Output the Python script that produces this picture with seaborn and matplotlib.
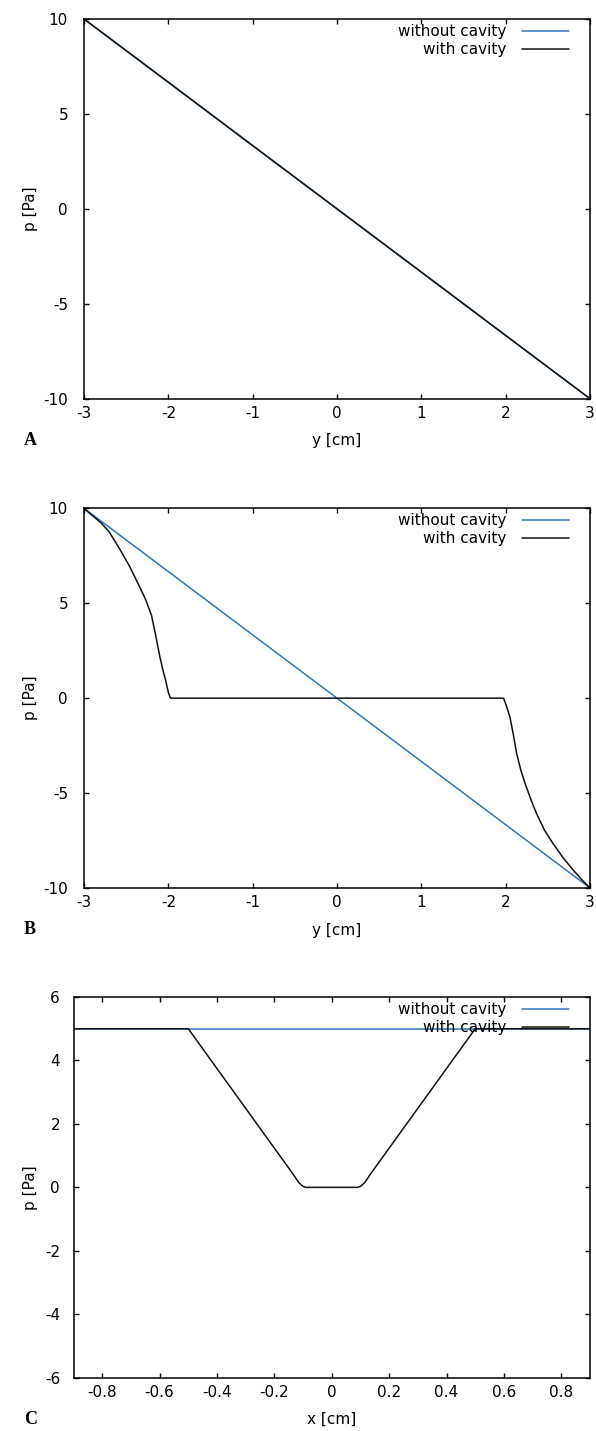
import matplotlib
matplotlib.use("Agg")
import matplotlib.pyplot as plt
import seaborn as sns
import pandas as pd

# ---- data -------------------------------------------------------------
# Panel A: pressure along y, both cases coincide
ya_without = [-3.0, 3.0]
pa_without = [10.0, -10.0]
ya_with = [-3.0, -2.0, -1.0, 0.0, 1.0, 2.0, 3.0]
pa_with = [10.0, 6.67, 3.33, 0.0, -3.33, -6.67, -10.0]

# Panel B: pressure along y through the cavity
yb_without = [-3.0, 3.0]
pb_without = [10.0, -10.0]
yb_with = [-3.0, -2.95, -2.89, -2.79, -2.70, -2.58, -2.46, -2.34, -2.27,
           -2.20, -2.15, -2.10, -2.06, -2.03, -2.00, -1.975,
           1.975, 2.00, 2.05, 2.09, 2.13, 2.18, 2.23, 2.30, 2.365, 2.46,
           2.56, 2.68, 2.80, 2.90, 3.0]
pb_with = [10.0, 9.8, 9.58, 9.2, 8.75, 7.88, 6.95, 5.86, 5.2,
           4.37, 3.3, 2.17, 1.4, 0.9, 0.3, 0.0,
           0.0, -0.3, -0.98, -1.9, -2.91, -3.8, -4.49, -5.35, -6.07, -6.95,
           -7.65, -8.4, -9.05, -9.55, -10.0]

# Panel C: pressure along x through the cavity
xc_without = [-0.9, 0.9]
pc_without = [5.0, 5.0]
xc_with = [-0.9, -0.5, -0.135, -0.115, -0.10, -0.09,
           0.09, 0.10, 0.115, 0.135, 0.5, 0.9]
pc_with = [5.0, 5.0, 0.42, 0.15, 0.03, 0.0,
           0.0, 0.03, 0.15, 0.42, 5.0, 5.0]

series_labels = ["without cavity", "with cavity"]

ab_xticks = [-3, -2, -1, 0, 1, 2, 3]
ab_xticklabels = ["-3", "-2", "-1", "0", "1", "2", "3"]
ab_yticks = [-10, -5, 0, 5, 10]
ab_yticklabels = ["-10", "-5", "0", "5", "10"]
c_xticks = [-0.8, -0.6, -0.4, -0.2, 0.0, 0.2, 0.4, 0.6, 0.8]
c_xticklabels = ["-0.8", "-0.6", "-0.4", "-0.2", "0", "0.2", "0.4", "0.6", "0.8"]
c_yticks = [-6, -4, -2, 0, 2, 4, 6]
c_yticklabels = ["-6", "-4", "-2", "0", "2", "4", "6"]

# ---- style ------------------------------------------------------------
sns.set_style("ticks")
plt.rcParams["font.family"] = ["DejaVu Sans"]
plt.rcParams["axes.linewidth"] = 1.1
plt.rcParams["text.color"] = "black"
plt.rcParams["axes.labelcolor"] = "black"

BLUE = "#2f74c0"
BLACK = "#111111"
W, H = 596.0, 1431.0

fig = plt.figure(figsize=(5.96, 14.31), dpi=100)


def rect(left, right, top, bottom):
    return [left / W, 1 - bottom / H, (right - left) / W, (bottom - top) / H]


def panel(box, x0, p0, x1, p1, xlim, ylim, xt, xtl, yt, ytl, xlabel,
          ypad, letter, letter_y):
    ax = fig.add_axes(rect(*box))
    d0 = pd.DataFrame({"x": x0, "p": p0})
    d1 = pd.DataFrame({"x": x1, "p": p1})
    sns.lineplot(data=d0, x="x", y="p", ax=ax, color=BLUE, lw=1.1,
                 sort=False, estimator=None, label=series_labels[0])
    sns.lineplot(data=d1, x="x", y="p", ax=ax, color=BLACK, lw=1.1,
                 sort=False, estimator=None, label=series_labels[1])
    ax.set_xlim(*xlim)
    ax.set_ylim(*ylim)
    ax.set_xticks(xt)
    ax.set_xticklabels(xtl)
    ax.set_yticks(yt)
    ax.set_yticklabels(ytl)
    for s in ax.spines.values():
        s.set_visible(True)
        s.set_color("black")
    ax.tick_params(direction="in", length=3.5, width=1.0, top=True,
                   right=True, labelsize=11, colors="black")
    ax.tick_params(axis="x", pad=5)
    ax.tick_params(axis="y", pad=ypad)

    left, right, top, bottom = box
    aw, ah = right - left, bottom - top
    ax.set_xlabel(xlabel, fontsize=11)
    ax.xaxis.set_label_coords(0.5, -42 / ah)
    ax.xaxis.label.set_va("center")
    ax.set_ylabel("p [Pa]", fontsize=11)
    ax.yaxis.set_label_coords((30 - left) / aw, 0.5)
    ax.yaxis.label.set_va("center")

    leg = ax.legend(loc="upper right",
                    bbox_to_anchor=((569 - left) / aw, 1 - 5 / ah),
                    frameon=False, markerfirst=False, fontsize=11,
                    handlelength=3.1, handletextpad=1.0, labelspacing=0.2,
                    borderpad=0, borderaxespad=0)
    for t in leg.get_texts():
        t.set_color("black")

    fig.text(24 / W, 1 - letter_y / H, letter, fontsize=13,
             fontweight="bold", family="Liberation Serif",
             ha="left", va="center")
    return ax


panel((84, 590, 19, 398.7), ya_without, pa_without, ya_with, pa_with,
      (-3, 3), (-10, 10), ab_xticks, ab_xticklabels, ab_yticks,
      ab_yticklabels, "y [cm]", 11.5, "A", 441)

panel((84, 590, 508.3, 888), yb_without, pb_without, yb_with, pb_with,
      (-3, 3), (-10, 10), ab_xticks, ab_xticklabels, ab_yticks,
      ab_yticklabels, "y [cm]", 11.5, "B", 930)

panel((73.5, 590, 997, 1377.7), xc_without, pc_without, xc_with, pc_with,
      (-0.9, 0.9), (-6, 6), c_xticks, c_xticklabels, c_yticks,
      c_yticklabels, "x [cm]", 9.7, "C", 1420)

fig.savefig("out.png", dpi=100)
